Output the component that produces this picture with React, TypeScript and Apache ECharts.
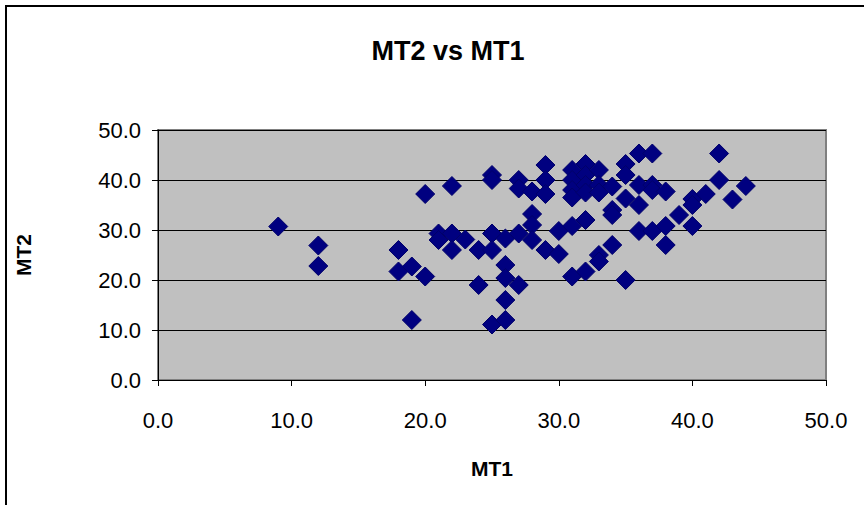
import React, { useEffect, useRef } from "react";
import * as echarts from "echarts";

const mt1: number[] = [
  9, 12, 12, 18, 18, 19, 19, 20, 20, 21, 21, 22, 22, 22, 23, 24, 24,
  25, 25, 25, 25, 25, 26, 26, 26, 26, 26, 27, 27, 27, 27,
  28, 28, 28, 28, 29, 29, 29, 29, 30, 30,
  31, 31, 31, 31, 31, 31, 32, 32, 32, 32, 32, 32,
  33, 33, 33, 33, 33, 34, 34, 34, 34,
  35, 35, 35, 35, 36, 36, 36, 36, 37, 37, 37, 37,
  38, 38, 38, 39, 40, 40, 40, 41, 42, 42, 43, 44,
];
const mt2: number[] = [
  30.7, 26.9, 22.8, 26.0, 21.7, 22.7, 12.0, 37.2, 20.7, 29.3, 28.0, 38.8, 29.3, 26.0, 28.1, 26.0, 19.0,
  41.0, 40.0, 29.3, 26.0, 11.1, 28.3, 23.0, 20.4, 16.0, 12.0, 40.0, 38.3, 29.3, 19.0,
  37.7, 33.2, 31.0, 28.0, 43.0, 40.0, 37.2, 26.0, 29.8, 25.2,
  42.0, 40.0, 38.0, 36.5, 30.8, 20.7, 43.2, 41.0, 39.0, 37.5, 32.0, 21.7,
  42.0, 39.0, 37.5, 25.0, 23.7, 38.7, 34.0, 33.0, 27.0,
  43.2, 41.0, 36.3, 20.0, 45.3, 39.0, 35.0, 29.8, 45.3, 39.0, 38.0, 29.8,
  37.7, 30.8, 27.0, 33.0, 36.2, 35.0, 30.8, 37.2, 45.3, 40.0, 36.1, 38.8,
];
const xTicks = { min: 0, max: 50, interval: 10 };
const yTicks = { min: 0, max: 50, interval: 10 };
const titleText = "MT2 vs MT1";
const xName = "MT1";
const yName = "MT2";

const FONT = "'Liberation Sans', Arial, sans-serif";

export default function App() {
  const ref = useRef<HTMLDivElement>(null);
  useEffect(() => {
    if (!ref.current) return;
    const chart = echarts.init(ref.current, null, { renderer: "svg" });
    const data = mt1.map((x, i) => [x, mt2[i]]);
    chart.setOption({
      animation: false,
      backgroundColor: "#ffffff",
      title: {
        text: titleText,
        left: 443,
        top: 32,
        textAlign: "center",
        textStyle: { fontFamily: FONT, fontSize: 27, fontWeight: "bold", color: "#000" },
      },
      graphic: [
        {
          type: "rect",
          shape: { x: 6, y: 6, width: 900, height: 600 },
          style: { fill: "none", stroke: "#000", lineWidth: 2 },
          silent: true,
        },
      ],
      grid: {
        left: 158,
        right: 38,
        top: 130,
        bottom: 125,
        show: true,
        backgroundColor: "#C0C0C0",
        borderColor: "#808080",
        borderWidth: 2,
      },
      xAxis: {
        type: "value",
        min: xTicks.min,
        max: xTicks.max,
        interval: xTicks.interval,
        name: xName,
        nameLocation: "middle",
        nameGap: 78,
        nameTextStyle: { fontFamily: FONT, fontSize: 21, fontWeight: "bold", color: "#000" },
        axisLine: { show: true, lineStyle: { color: "#000", width: 1 } },
        axisTick: { show: true, inside: false, length: 6, lineStyle: { color: "#000" } },
        axisLabel: {
          formatter: (v: number) => v.toFixed(1),
          margin: 29,
          fontFamily: FONT,
          fontSize: 22,
          color: "#000",
        },
        splitLine: { show: false },
      },
      yAxis: {
        type: "value",
        min: yTicks.min,
        max: yTicks.max,
        interval: yTicks.interval,
        name: yName,
        nameLocation: "middle",
        nameGap: 124,
        nameTextStyle: { fontFamily: FONT, fontSize: 21, fontWeight: "bold", color: "#000" },
        axisLine: { show: true, lineStyle: { color: "#000", width: 1 } },
        axisTick: { show: true, inside: false, length: 6, lineStyle: { color: "#000" } },
        axisLabel: {
          formatter: (v: number) => v.toFixed(1),
          margin: 17,
          fontFamily: FONT,
          fontSize: 22,
          color: "#000",
        },
        splitLine: { show: true, lineStyle: { color: "#000", width: 1 } },
      },
      series: [
        {
          type: "scatter",
          data,
          symbol: "diamond",
          symbolSize: 19,
          itemStyle: { color: "#000080", opacity: 1, borderColor: "#00006a", borderWidth: 1 },
        },
      ],
    });
    return () => chart.dispose();
  }, []);
  return (
    <div
      ref={ref}
      style={{ position: "fixed", left: 0, top: 0, width: 864, height: 505 }}
    />
  );
}
